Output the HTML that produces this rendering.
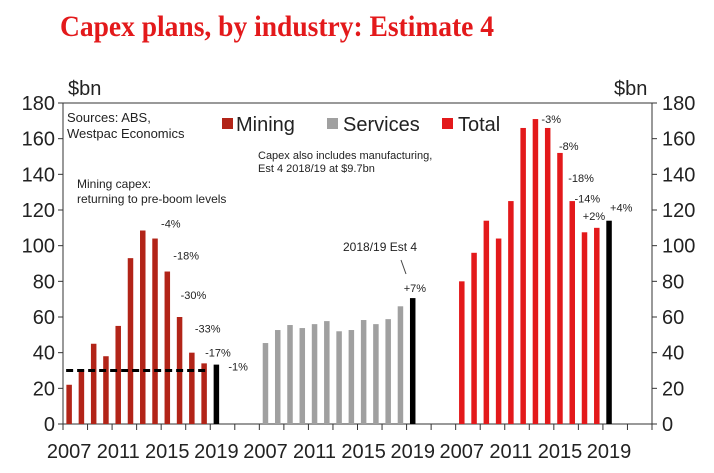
<!DOCTYPE html>
<html><head><meta charset="utf-8"><style>
body{margin:0;background:#fff}
svg{display:block;font-family:"Liberation Sans",Arial,sans-serif}
</style></head><body>
<svg id="chart" width="714" height="473" viewBox="0 0 714 473" xmlns="http://www.w3.org/2000/svg">
<text x="60" y="36" font-family="'Liberation Serif',serif" font-weight="bold" font-size="30" fill="#e3191b" textLength="434" lengthAdjust="spacingAndGlyphs">Capex plans, by industry: Estimate 4</text>
<text x="68" y="95" font-size="20" fill="#222">$bn</text>
<text x="614" y="95" font-size="20" fill="#222">$bn</text>
<g id="axes"></g>
<g id="bars"></g>
<text x="67" y="122" font-size="13" fill="#222">Sources: ABS,</text>
<text x="67" y="138" font-size="13" fill="#222">Westpac Economics</text>
<text x="77" y="188" font-size="12" fill="#222">Mining capex:</text>
<text x="77" y="203" font-size="12" fill="#222">returning to pre-boom levels</text>
<text x="258" y="159" font-size="11" fill="#222">Capex also includes manufacturing,</text>
<text x="258" y="172" font-size="11" fill="#222">Est 4 2018/19 at $9.7bn</text>
<text x="343" y="251" font-size="12" fill="#222">2018/19 Est 4</text>
<line x1="401" y1="260" x2="406" y2="274" stroke="#444" stroke-width="1"/>
<g>
<rect x="222" y="118" width="11" height="11" fill="#b22418"/>
<text x="236" y="131" font-size="20" fill="#222">Mining</text>
<rect x="327" y="118" width="11" height="11" fill="#a0a0a0"/>
<text x="343" y="131" font-size="20" fill="#222">Services</text>
<rect x="442" y="118" width="11" height="11" fill="#e3191b"/>
<text x="458" y="131" font-size="20" fill="#222">Total</text>
</g>
<g id="labels" font-size="11" fill="#222"></g>
</svg>
<script>
const years = [2007,2008,2009,2010,2011,2012,2013,2014,2015,2016,2017,2018,2019];
const miningValues = [22,30.5,45,38,55,93,108.5,104,85.5,60,40,34,33.3];
const servicesValues = [45.4,52.7,55.5,53.8,56,57.7,52,52.7,58.3,56,58.8,66,70.6];
const totalValues = [80,96,114,104,125,166,171,166,152,125,107.5,110,114];
const preBoomLevel = 30;
const yTicks = [0,20,40,60,80,100,120,140,160,180];
const xTickLabels = [2007,2011,2015,2019];
const miningChanges = [["-4%",7],["-18%",8],["-30%",9],["-33%",10],["-17%",11],["-1%",12]];
const totalChanges = [["-3%",6],["-8%",8],["-18%",9],["-14%",10],["+2%",11],["+4%",12]];
const servicesChanges = [["+7%",12]];

const NS="http://www.w3.org/2000/svg";
const L=63,R=652,Y0=424,Y180=103;
const slot=(R-L)/48;
const y=v=>Y0-v*(Y0-Y180)/180;
const x=(s,i)=>L+(s*16+i+0.5)*slot;
function mk(tag,attrs,parent,txt){const e=document.createElementNS(NS,tag);for(const k in attrs)e.setAttribute(k,attrs[k]);if(txt!==undefined)e.textContent=txt;parent.appendChild(e);return e;}
const axes=document.getElementById('axes');
let e;
e=mk('line',{x1:L,y1:Y180,x2:R,y2:Y180,stroke:'#333','stroke-width':1},axes);


e=mk('line',{x1:L,y1:Y180,x2:L,y2:Y0,stroke:'#333','stroke-width':1},axes);


e=mk('line',{x1:R,y1:Y180,x2:R,y2:Y0,stroke:'#333','stroke-width':1},axes);


e=mk('line',{x1:L,y1:Y0,x2:R,y2:Y0,stroke:'#333','stroke-width':1},axes);


yTicks.forEach(t=>{
  e=mk('line',{x1:L-5,y1:y(t),x2:L,y2:y(t),stroke:'#333'},axes);
  
  
  e=mk('line',{x1:R,y1:y(t),x2:R+5,y2:y(t),stroke:'#333'},axes);
  
  
  e=mk('text',{x:55,y:y(t)+7,'text-anchor':'end','font-size':20,fill:'#222'},axes,String(t));
  
  
  e=mk('text',{x:662,y:y(t)+7,'font-size':20,fill:'#222'},axes,String(t));
  
  
});
for(let k=0;k<=24;k++){
  e=mk('line',{x1:L+k*2*slot,y1:Y0,x2:L+k*2*slot,y2:Y0+6,stroke:'#333'},axes);
  
  
}
for(let s=0;s<3;s++){
  xTickLabels.forEach(yr=>{
    e=mk('text',{x:x(s,yr-years[0]),y:458,'text-anchor':'middle','font-size':20,fill:'#222'},axes,String(yr));
    
    
  });
}
const bars=document.getElementById('bars');
const series=[[miningValues,'#b22418','mining'],[servicesValues,'#a0a0a0','services'],[totalValues,'#e3191b','total']];
series.forEach(([vals,col,name],s)=>{
  vals.forEach((v,i)=>{
    const last=i===vals.length-1;
    e=mk('rect',{x:x(s,i)-2.75,y:y(v),width:5.5,height:Y0-y(v),fill:last?'#000':col},bars);
    
    
  });
});
e=mk('line',{x1:x(0,0)-3,y1:y(preBoomLevel),x2:x(0,11)+3,y2:y(preBoomLevel),stroke:'#000','stroke-width':3,'stroke-dasharray':'7,4'},bars);


const labels=document.getElementById('labels');
const mOff={7:[6,-11],8:[6,-12],9:[1,-18],10:[3,-20],11:[1,-7],12:[12,6]};
miningChanges.forEach(([t,i])=>{
  const o=mOff[i];
  e=mk('text',{x:x(0,i)+o[0],y:y(miningValues[i])+o[1],'font-size':11},labels,t);
  
  
});
const tOff={6:[6,4],8:[-1,-3],9:[-4,-19],10:[-10,-30],11:[-14,-8],12:[1,-9]};
totalChanges.forEach(([t,i])=>{
  const o=tOff[i];
  e=mk('text',{x:x(2,i)+o[0],y:y(totalValues[i])+o[1],'font-size':11},labels,t);
  
  
});
servicesChanges.forEach(([t,i])=>{
  e=mk('text',{x:x(1,i)-9,y:y(servicesValues[i])-6,'font-size':11},labels,t);
  
  
});
</script>
</body></html>
